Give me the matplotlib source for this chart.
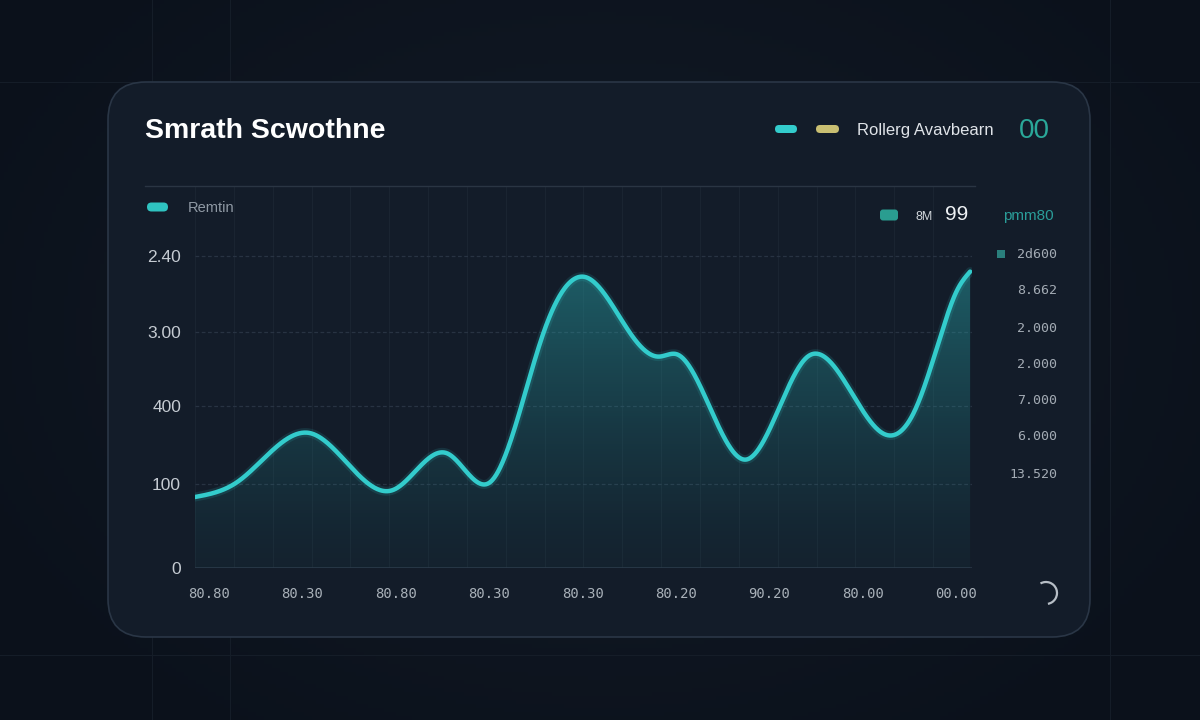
import numpy as np
import matplotlib
matplotlib.use("Agg")
import matplotlib.pyplot as plt
from matplotlib.patches import FancyBboxPatch, Arc, Rectangle
from matplotlib.path import Path
from matplotlib.patches import PathPatch

# ---------------- data ----------------
title = "Smrath Scwothne"
legend_label = "Rollerg Avavbearn"
legend_value = "00"
series_label = "Remtin"
stat_unit = "8M"
stat_value = "99"
stat_label = "pmm80"

x_labels = ["80.80", "80.30", "80.80", "80.30", "80.30", "80.20", "90.20", "80.00", "00.00"]
y_labels = ["0", "100", "400", "3.00", "2.40"]
y_label_pos = [0.0, 1.08, 2.08, 3.03, 4.0]
right_labels = ["2d600", "8.662", "2.000", "2.000", "7.000", "6.000", "13.520"]

x_vals = [-0.15, 0.30, 1.08, 1.97, 2.55, 3.01, 3.58, 4.03, 4.54, 4.82, 5.01, 5.75,
          6.41, 7.21, 7.55, 7.83, 8.01, 8.15]
y_vals = [0.91, 1.10, 1.73, 1.00, 1.47, 1.10, 3.01, 3.73, 2.96, 2.71, 2.74, 1.39,
          2.71, 1.73, 2.00, 2.96, 3.56, 3.80]

# ---------------- colors ----------------
BG = "#0c131d"
CARD = "#131c29"
CARD_EDGE = "#2a3646"
TEAL = "#33cccc"
YELLOW = "#c9bf72"
TXT = "#c5cbd2"
SUB = "#8f99a4"

W, H = 1200, 720
fig = plt.figure(figsize=(12, 7.2), dpi=100, facecolor=BG)


def pixel_axes(z):
    a = fig.add_axes([0, 0, 1, 1], zorder=z)
    a.set_xlim(0, W)
    a.set_ylim(H, 0)
    a.axis("off")
    a.patch.set_alpha(0)
    return a


bg = pixel_axes(0)
yy, xx = np.mgrid[0:H:4, 0:W:4]
d = np.sqrt(((xx - 600) / 700) ** 2 + ((yy - 330) / 500) ** 2)
shade = np.clip(1 - d, 0, 1)
base = np.array([11, 17, 27]) / 255
hi = np.array([19, 28, 40]) / 255
img = base[None, None, :] + (hi - base)[None, None, :] * shade[..., None]
bg.imshow(img, extent=[0, W, H, 0], aspect="auto", zorder=0)
for gx in [152, 230, 1110]:
    bg.plot([gx, gx], [0, H], color="#151d28", lw=0.8, zorder=1)
for gy in [82, 655]:
    bg.plot([0, W], [gy, gy], color="#151d28", lw=0.8, zorder=1)
bg.set_xlim(0, W)
bg.set_ylim(H, 0)

card = FancyBboxPatch((108, 82), 982, 555, boxstyle="round,pad=0,rounding_size=38",
                      facecolor=CARD, edgecolor=CARD_EDGE, lw=1.2, zorder=2)
bg.add_patch(card)

# ---------------- main plot ----------------
PX0, PX1, PYT, PYB = 195, 972, 186, 568
ax = fig.add_axes([PX0 / W, 1 - PYB / H, (PX1 - PX0) / W, (PYB - PYT) / H], zorder=1)
ax.patch.set_alpha(0)
XL = (-0.15, 8.17)
YL = (0, (PYB - PYT) / 78.0)

for gx in np.linspace(XL[0], XL[1], 21):
    ax.axvline(gx, color="#1a2431", lw=0.8, zorder=1)
for yv in y_label_pos[1:]:
    ax.axhline(yv, color="#283342", lw=0.9, ls=(0, (3, 2)), zorder=1)
ax.axhline(0, color="#2b3646", lw=1.2, zorder=1)

# natural cubic spline through the read points
xv = np.array(x_vals, float)
yv_ = np.array(y_vals, float)
n = len(xv)
h = np.diff(xv)
A = np.zeros((n, n))
b = np.zeros(n)
A[0, 0] = 1
A[-1, -1] = 1
for i in range(1, n - 1):
    A[i, i - 1] = h[i - 1]
    A[i, i] = 2 * (h[i - 1] + h[i])
    A[i, i + 1] = h[i]
    b[i] = 6 * ((yv_[i + 1] - yv_[i]) / h[i] - (yv_[i] - yv_[i - 1]) / h[i - 1])
M = np.linalg.solve(A, b)
xs = np.linspace(xv[0], xv[-1], 1200)
idx = np.clip(np.searchsorted(xv, xs) - 1, 0, n - 2)
x0, x1 = xv[idx], xv[idx + 1]
hi_ = x1 - x0
ys = (M[idx] * (x1 - xs) ** 3 / (6 * hi_) + M[idx + 1] * (xs - x0) ** 3 / (6 * hi_)
      + (yv_[idx] / hi_ - M[idx] * hi_ / 6) * (x1 - xs)
      + (yv_[idx + 1] / hi_ - M[idx + 1] * hi_ / 6) * (xs - x0))

ymax = 4.0
grad = np.linspace(0, 1, 256)[:, None]
rgba = np.zeros((256, 1, 4))
rgba[..., 0] = 0.16
rgba[..., 1] = 0.63
rgba[..., 2] = 0.65
rgba[..., 3] = 0.05 + 0.47 * grad ** 1.3
im = ax.imshow(rgba, extent=[xs.min(), xs.max(), 0, ymax], origin="lower",
               aspect="auto", zorder=2)
clip = PathPatch(Path(np.column_stack([np.r_[xs, xs[::-1]], np.r_[ys, np.zeros_like(ys)]])),
                 transform=ax.transData, facecolor="none", edgecolor="none")
ax.add_patch(clip)
im.set_clip_path(clip)

ax.plot(xs, ys, color=TEAL, lw=6.5, alpha=0.13, solid_capstyle="round", zorder=3)
ax.plot(xs, ys, color=TEAL, lw=3.2, solid_capstyle="round", zorder=4)
ax.set_xlim(*XL)
ax.set_ylim(*YL)

ax.set_yticks(y_label_pos)
ax.set_yticklabels(y_labels, color=TXT, fontsize=12.5, family="Liberation Sans")
ax.set_xticks(range(len(x_labels)))
ax.set_xticklabels(x_labels, color="#a9b1b9", fontsize=10, family="DejaVu Sans Mono")
ax.tick_params(axis="y", length=0, pad=10)
ax.tick_params(axis="x", length=0, pad=14)
for s in ax.spines.values():
    s.set_visible(False)

# ---------------- foreground texts ----------------
fg = pixel_axes(2)
fg.plot([145, 975], [186, 186], color="#2a3543", lw=1.0, zorder=3)
fg.text(145, 131, title, color="white", fontsize=20.5, fontweight="bold",
        family="Liberation Sans", va="center", ha="left", zorder=4)


def pill(x0, x1, y, color, h=8, r=None):
    r = h / 2 if r is None else r
    p = FancyBboxPatch((x0, y - h / 2), x1 - x0, h, boxstyle="round,pad=0,rounding_size=%g" % r,
                       facecolor=color, edgecolor="none", zorder=4)
    fg.add_patch(p)


pill(775, 797, 129, TEAL)
pill(816, 839, 129, YELLOW)
fg.text(857, 131, legend_label, color="#dfe3e8", fontsize=12, family="Liberation Sans",
        va="center", ha="left", zorder=4)
fg.text(1019, 131, legend_value, color="#2aa899", fontsize=20, family="Liberation Sans",
        va="center", ha="left", zorder=4)

pill(147, 168, 207, "#2fc3c0", h=9)
fg.text(188, 208, series_label, color=SUB, fontsize=10.5, family="Liberation Sans",
        va="center", ha="left", zorder=4)
pill(880, 898, 215, "#2a9d90", h=11, r=3)
fg.text(916, 217, stat_unit, color="#d0d5da", fontsize=9, family="Liberation Sans",
        va="center", ha="left", zorder=4)
fg.text(945, 215, stat_value, color="#eef1f4", fontsize=15, family="Liberation Sans",
        va="center", ha="left", zorder=4)
fg.text(1003, 216, stat_label, color="#2a9d99", fontsize=11, family="Liberation Sans",
        va="center", ha="left", zorder=4)

fg.add_patch(Rectangle((997, 250), 8, 8, facecolor="#2a7f7c", edgecolor="none", zorder=4))
ry = [254, 291, 328, 364, 401, 437, 474]
for lab, yv in zip(right_labels, ry):
    fg.text(1057, yv, lab, color="#a3abb4", fontsize=9.5, family="DejaVu Sans Mono",
            va="center", ha="right", zorder=4)

fg.add_patch(Arc((1046, 593), 22, 22, angle=0, theta1=-120, theta2=80,
                 color="#b7bec6", lw=1.6, zorder=4))

fig.savefig("out.png", dpi=100, facecolor=BG)
